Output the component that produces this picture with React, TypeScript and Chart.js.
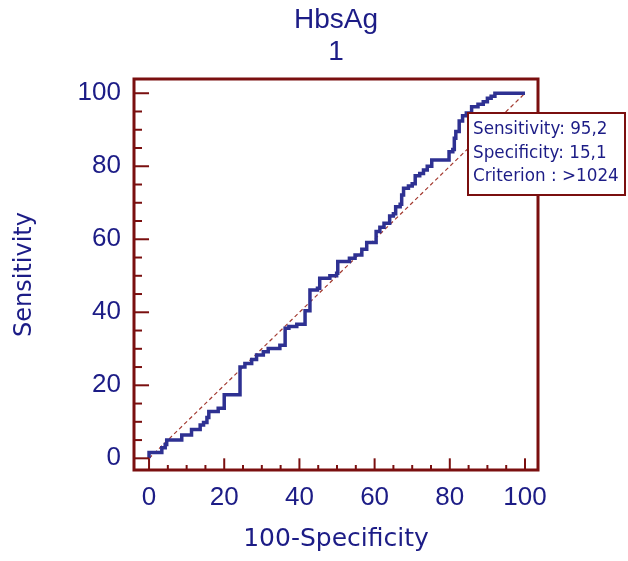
import React, { useEffect, useRef } from "react";
import { Chart, registerables } from "chart.js";

Chart.register(...registerables);

const TITLE_LINES = ["HbsAg", "1"];
const X_TITLE = "100-Specificity";
const Y_TITLE = "Sensitivity";
const TICK_VALUES = [0, 20, 40, 60, 80, 100];
const MINOR_STEP = 5;

// ROC operating points: at FPR[i] the curve rises to TPR[i]
const FPR = [0, 0, 3.4, 4.3, 4.7, 8.7, 11.3, 13.6, 14.5, 15.4, 15.9, 18.4, 20.0, 24.2, 25.5, 27.3, 28.6, 30.4, 31.7, 34.8, 36.2, 37.2, 39.3, 41.5, 42.8, 44.8, 45.4, 48.1, 49.9, 50.2, 53.3, 54.8, 56.6, 57.9, 60.4, 61.4, 62.5, 64.0, 65.0, 65.6, 66.8, 67.2, 67.7, 69.0, 70.0, 70.8, 72.0, 73.0, 74.0, 75.2, 79.8, 80.8, 81.2, 81.6, 82.5, 83.4, 84.4, 85.8, 87.5, 88.9, 90.0, 91.0, 92.0, 100];
const TPR = [0, 1.6, 2.9, 3.8, 5.0, 6.4, 7.9, 9.1, 9.8, 11.2, 12.8, 13.7, 17.4, 25.0, 26.0, 27.1, 28.3, 29.2, 30.1, 31.0, 35.6, 36.1, 36.7, 40.4, 46.1, 46.6, 49.3, 50.0, 50.7, 53.9, 54.8, 55.7, 57.3, 59.1, 62.1, 63.3, 64.4, 66.4, 67.0, 68.9, 69.6, 72.1, 74.0, 74.6, 75.2, 77.4, 78.0, 79.0, 80.0, 81.7, 84.0, 84.6, 87.7, 89.5, 92.4, 93.8, 94.6, 96.3, 97.0, 97.7, 98.6, 99.2, 100, 100];

const DIAG_X = [0, 100];
const DIAG_Y = [0, 100];

const INFO_LINES = ["Sensitivity: 95,2", "Specificity: 15,1", "Criterion : >1024"];

const X_MIN = -4;
const X_MAX = 103.46;
const Y_MIN = -3.2;
const Y_MAX = 103.9;

const NAVY = "#1c1c86";
const CURVE = "#2e3192";
const FRAME = "#7a0f0f";
const DIAG = "#a33a30";

const titlePlugin = {
  id: "centerTitle",
  afterDraw(chart: any) {
    const { ctx, chartArea: a } = chart;
    const cx = (a.left + a.right) / 2;
    ctx.save();
    ctx.fillStyle = NAVY;
    ctx.font = '28px "Liberation Sans", Arial, sans-serif';
    ctx.textAlign = "center";
    ctx.textBaseline = "alphabetic";
    TITLE_LINES.forEach((t, i) => {
      ctx.fillText(t, cx, 28 + i * 32);
    });
    ctx.restore();
  },
};

const frameTicks = {
  id: "frameTicks",
  afterDatasetsDraw(chart: any) {
    const { ctx, chartArea: a, scales } = chart;
    const x = scales.x;
    const y = scales.y;
    ctx.save();
    ctx.strokeStyle = FRAME;
    ctx.lineWidth = 2;
    const majorY = x.getPixelForValue(0) - a.left;
    const majorX = a.bottom - y.getPixelForValue(0);
    for (let v = 0; v <= 100; v += MINOR_STEP) {
      const isMajor = TICK_VALUES.includes(v);
      const py = y.getPixelForValue(v);
      ctx.beginPath();
      ctx.moveTo(a.left, py);
      ctx.lineTo(a.left + (isMajor ? majorY : 8), py);
      ctx.stroke();
      const px = x.getPixelForValue(v);
      ctx.beginPath();
      ctx.moveTo(px, a.bottom);
      ctx.lineTo(px, a.bottom - (isMajor ? majorX : 5));
      ctx.stroke();
    }
    ctx.lineWidth = 3;
    ctx.strokeRect(a.left, a.top, a.right - a.left, a.bottom - a.top);
    ctx.restore();
  },
};

const infoBox = {
  id: "infoBox",
  afterDraw(chart: any) {
    const { ctx, chartArea: a } = chart;
    const left = a.right - 70;
    const top = a.top + 34;
    const w = 157;
    const h = 82;
    ctx.save();
    ctx.fillStyle = "#ffffff";
    ctx.fillRect(left, top, w, h);
    ctx.strokeStyle = FRAME;
    ctx.lineWidth = 2;
    ctx.strokeRect(left, top, w, h);
    ctx.fillStyle = NAVY;
    ctx.font = '16.8px "DejaVu Sans", sans-serif';
    ctx.textBaseline = "middle";
    ctx.textAlign = "left";
    INFO_LINES.forEach((t, i) => {
      ctx.fillText(t, left + 5, top + 17 + i * 23.5);
    });
    ctx.restore();
  },
};

export default function App() {
  const ref = useRef<HTMLCanvasElement | null>(null);

  useEffect(() => {
    if (!ref.current) return;
    const roc = FPR.map((v, i) => ({ x: v, y: TPR[i] }));
    const diag = DIAG_X.map((v, i) => ({ x: v, y: DIAG_Y[i] }));
    const chart = new Chart(ref.current, {
      type: "scatter",
      data: {
        datasets: [
          {
            data: roc,
            showLine: true,
            stepped: "before",
            borderColor: CURVE,
            borderWidth: 3.5,
            pointRadius: 0,
            fill: false,
          },
          {
            data: diag,
            showLine: true,
            borderColor: DIAG,
            borderWidth: 1.2,
            borderDash: [4, 3],
            pointRadius: 0,
            fill: false,
          },
        ],
      } as any,
      options: {
        animation: false,
        responsive: true,
        maintainAspectRatio: false,
        layout: { padding: { left: 0, right: 90, top: 79, bottom: 0 } },
        plugins: {
          legend: { display: false },
          tooltip: { enabled: false },
          title: { display: false },
        },
        scales: {
          x: {
            type: "linear",
            min: X_MIN,
            max: X_MAX,
            afterBuildTicks: (s: any) => {
              s.ticks = TICK_VALUES.map((v) => ({ value: v }));
            },
            afterFit: (s: any) => {
              s.height = 91;
            },
            grid: { display: false, drawTicks: false },
            border: { display: false },
            ticks: {
              color: NAVY,
              padding: 12,
              maxRotation: 0,
              font: { family: '"Liberation Sans", Arial, sans-serif', size: 26 },
            },
            title: {
              display: true,
              text: X_TITLE,
              color: NAVY,
              font: { family: '"DejaVu Sans", sans-serif', size: 25 },
              padding: { top: 0, bottom: 6.5 },
            },
          },
          y: {
            type: "linear",
            min: Y_MIN,
            max: Y_MAX,
            afterBuildTicks: (s: any) => {
              s.ticks = TICK_VALUES.map((v) => ({ value: v }));
            },
            afterFit: (s: any) => {
              s.width = 134;
            },
            grid: { display: false, drawTicks: false },
            border: { display: false },
            ticks: {
              color: NAVY,
              padding: 13,
              font: { family: '"Liberation Sans", Arial, sans-serif', size: 26 },
            },
            title: {
              display: true,
              text: Y_TITLE,
              color: NAVY,
              font: { family: '"DejaVu Sans", sans-serif', size: 24 },
              padding: { top: 10.5, bottom: 0 },
            },
          },
        },
      } as any,
      plugins: [frameTicks, infoBox, titlePlugin],
    });
    return () => chart.destroy();
  }, []);

  return (
    <div style={{ position: "fixed", left: 0, top: 0, width: 628, height: 561, background: "#ffffff" }}>
      <canvas ref={ref} />
    </div>
  );
}
